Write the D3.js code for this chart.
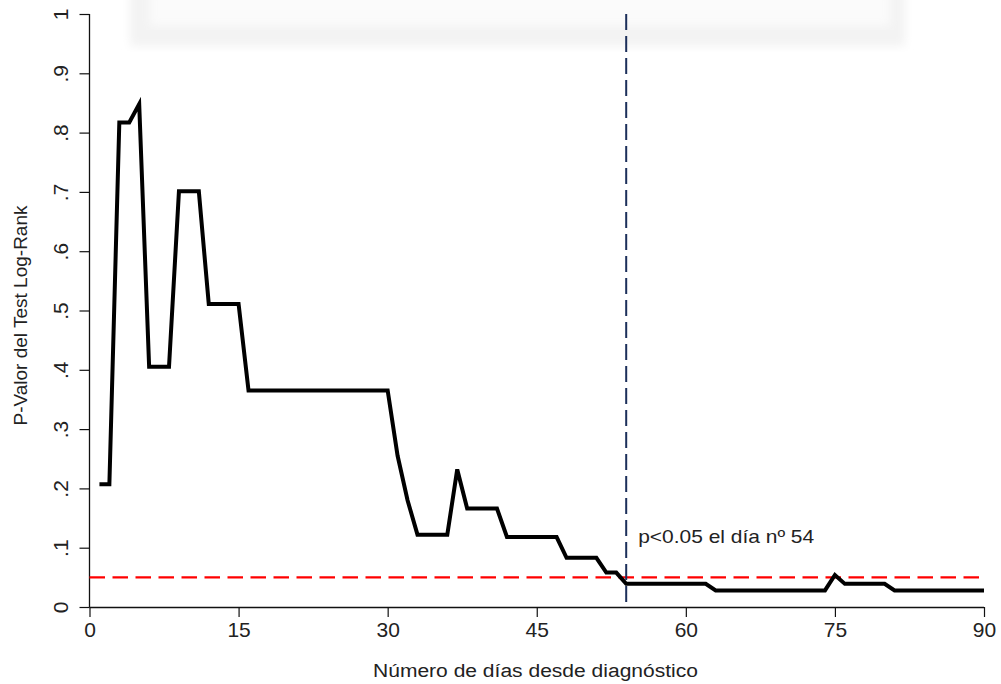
<!DOCTYPE html>
<html>
<head>
<meta charset="utf-8">
<script src="https://cdnjs.cloudflare.com/ajax/libs/d3/7.8.5/d3.min.js"></script>
<style>
  body { margin: 0; background: #fff; }
  svg text { font-family: "Liberation Sans", Arial, sans-serif; fill: #222; }
</style>
</head>
<body>
<svg id="chart" width="1001" height="684"></svg>
<script>
// vertices of the p-value curve (day, p-value)
const days = [1, 2, 3, 4, 5, 6, 8, 9, 11, 12, 15, 16, 30, 31, 32, 33, 36, 37, 38, 41, 42, 47, 48, 51, 52, 53, 54, 62, 63, 74, 75, 76, 80, 81, 90];
const pValues = [0.207, 0.207, 0.817, 0.817, 0.848, 0.405, 0.405, 0.701, 0.701, 0.511, 0.511, 0.365, 0.365, 0.255, 0.18, 0.122, 0.122, 0.232, 0.166, 0.166, 0.118, 0.118, 0.083, 0.083, 0.058, 0.058, 0.039, 0.039, 0.028, 0.028, 0.054, 0.039, 0.039, 0.028, 0.028];

const xTicks = [0, 15, 30, 45, 60, 75, 90];
const yTicks = [0, 0.1, 0.2, 0.3, 0.4, 0.5, 0.6, 0.7, 0.8, 0.9, 1];
const yTickLabels = ['0', '.1', '.2', '.3', '.4', '.5', '.6', '.7', '.8', '.9', '1'];

const threshold = 0.05;
const signifDay = 54;
const note = 'p<0.05 el día nº 54';
const xTitle = 'Número de días desde diagnóstico';
const yTitle = 'P-Valor del Test Log-Rank';

const svg = d3.select('#chart');

const x = d3.scaleLinear().domain([0, 90]).range([89.5, 984]);
const y = d3.scaleLinear().domain([0, 1]).range([607, 14]);

// faint watermark band at the top
const defs = svg.append('defs');
defs.append('filter').attr('id', 'blur')
  .append('feGaussianBlur').attr('stdDeviation', 5);
svg.append('rect')
  .attr('x', 130).attr('y', -10)
  .attr('width', 775).attr('height', 56)
  .style('fill', '#f3f3f3')
  .attr('filter', 'url(#blur)');
svg.append('rect')
  .attr('x', 150).attr('y', -10)
  .attr('width', 740).attr('height', 36)
  .style('fill', '#fbfbfb')
  .attr('filter', 'url(#blur)');

// axes
const xAxis = svg.append('g')
  .attr('transform', `translate(0,${y(0)})`)
  .call(d3.axisBottom(x).tickValues(xTicks).tickSize(10).tickPadding(5).tickFormat(d3.format('d')));
xAxis.select('.domain').attr('d', `M${x(0)},0.5H${x(90)}`);

const yAxis = svg.append('g')
  .attr('transform', `translate(${x(0)},0)`)
  .call(d3.axisLeft(y).tickValues(yTicks).tickSize(10).tickFormat((d, i) => yTickLabels[i]));
yAxis.select('.domain').attr('d', `M0,${y(1)}V${y(0)}`);

svg.selectAll('.domain').style('stroke', '#111').style('stroke-width', 1.3);
svg.selectAll('.tick line').style('stroke', '#111').style('stroke-width', 1.2);
svg.selectAll('.tick text')
  .style('font-size', '21px')
  .style('font-family', '"Liberation Sans", Arial, sans-serif')
  .style('fill', '#222');

xAxis.selectAll('.tick text').attr('dy', '0.71em');
yAxis.selectAll('.tick text')
  .attr('x', null).attr('dy', null)
  .attr('text-anchor', 'middle')
  .attr('transform', 'translate(-21.5,0) rotate(-90)');

// threshold line
svg.append('line')
  .attr('x1', x(0)).attr('x2', x(90))
  .attr('y1', y(threshold)).attr('y2', y(threshold))
  .style('stroke', '#ff0000')
  .style('stroke-width', 2.4)
  .style('stroke-dasharray', '15.5,7.5');

// vertical marker at day 54
svg.append('line')
  .attr('x1', x(signifDay)).attr('x2', x(signifDay))
  .attr('y1', y(1)).attr('y2', y(0))
  .style('stroke', '#1c2f5a')
  .style('stroke-width', 2)
  .style('stroke-dasharray', '16,6');

// p-value curve
const line = d3.line()
  .x(d => x(d[0]))
  .y(d => y(d[1]));

svg.append('path')
  .datum(days.map((d, i) => [d, pValues[i]]))
  .attr('d', line)
  .style('fill', 'none')
  .style('stroke', '#000')
  .style('stroke-width', 4)
  .style('stroke-linejoin', 'miter')
  .style('stroke-linecap', 'butt');

svg.append('text')
  .attr('x', x(signifDay) + 12)
  .attr('y', 543)
  .attr('textLength', 176)
  .attr('lengthAdjust', 'spacingAndGlyphs')
  .style('font-size', '18.5px')
  .text(note);

// titles
svg.append('text')
  .attr('x', 373)
  .attr('y', 676.5)
  .attr('textLength', 325)
  .attr('lengthAdjust', 'spacingAndGlyphs')
  .style('font-size', '18px')
  .text(xTitle);

svg.append('text')
  .attr('transform', `translate(27,${(188 + 443) / 2}) rotate(-90)`)
  .attr('text-anchor', 'middle')
  .style('font-size', '19px')
  .text(yTitle);
</script>
</body>
</html>
